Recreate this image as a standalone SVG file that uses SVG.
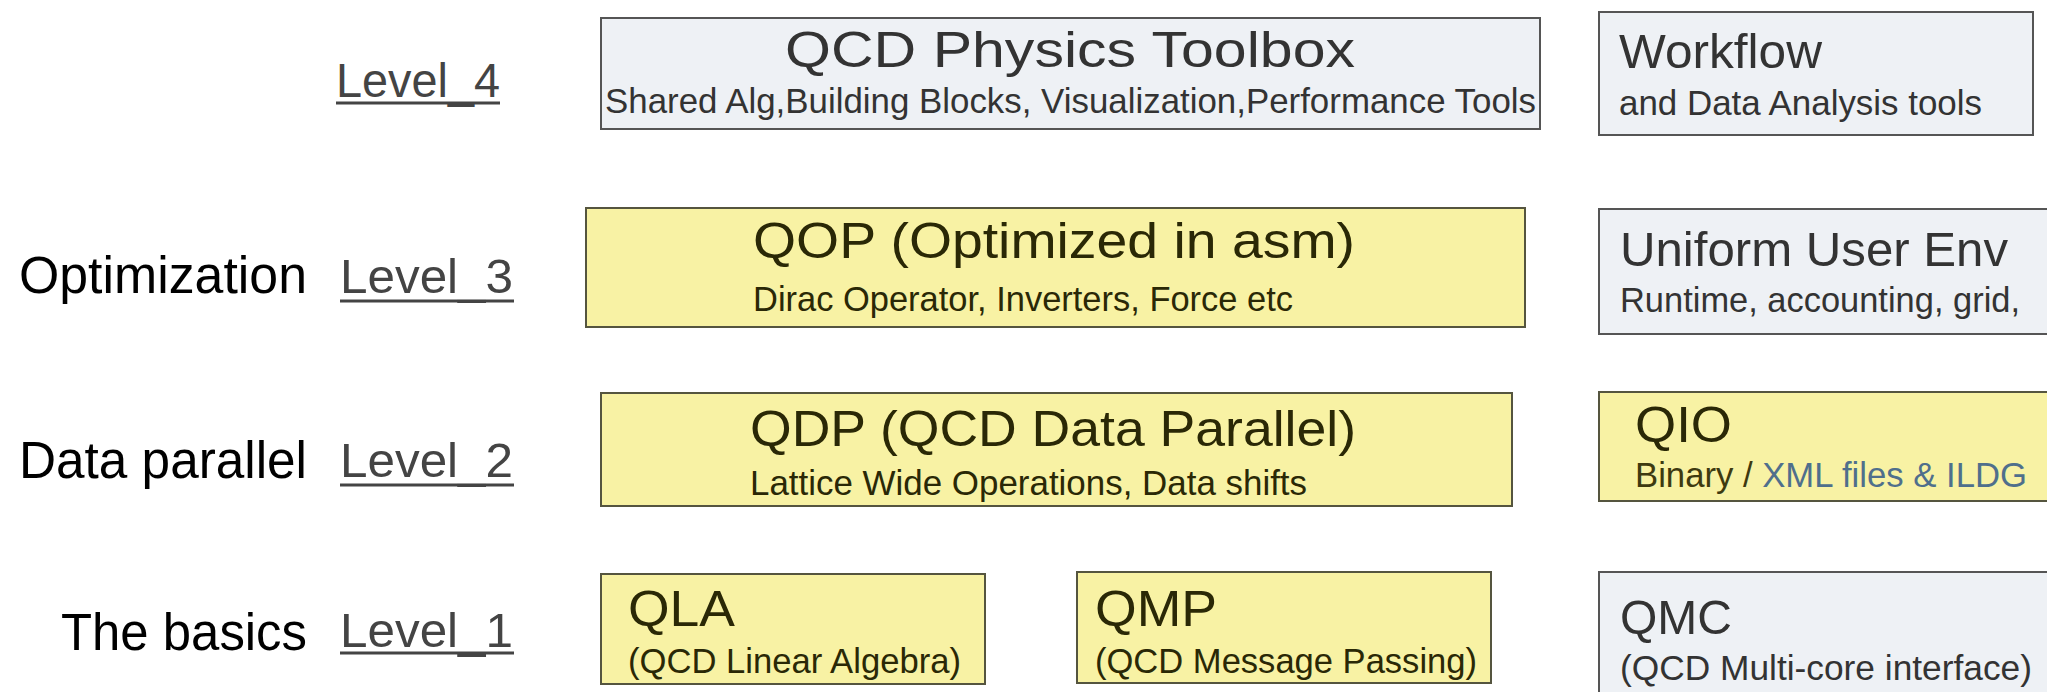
<svg xmlns="http://www.w3.org/2000/svg" width="2047" height="692" viewBox="0 0 2047 692">
<style>
text{font-family:"Liberation Sans",Arial,sans-serif}
.blue{fill:#eef1f5;stroke:#555;stroke-width:2}
.yel{fill:#f8f2a4;stroke:#55553f;stroke-width:2}
.side{fill:#000;font-size:51px}
.lvl{fill:#444;font-size:48px}
.ul{stroke:#444;stroke-width:3}
.bt{fill:#333}
.yt{fill:#2a2806}
.tt{font-size:50px}
.st{font-size:35px}
</style>
<rect width="2047" height="692" fill="#fff"/>
<g id="labels">
<text class="lvl" x="336" y="97" textLength="164" lengthAdjust="spacingAndGlyphs">Level_4</text>
<line class="ul" x1="336" y1="103" x2="500" y2="103"/>
<text class="side" x="19" y="293" textLength="288" lengthAdjust="spacingAndGlyphs">Optimization</text>
<text class="lvl" x="340" y="293" textLength="173" lengthAdjust="spacingAndGlyphs">Level_3</text>
<line class="ul" x1="340" y1="301" x2="514" y2="301"/>
<text class="side" x="19" y="478" textLength="288" lengthAdjust="spacingAndGlyphs">Data parallel</text>
<text class="lvl" x="340" y="477" textLength="173" lengthAdjust="spacingAndGlyphs">Level_2</text>
<line class="ul" x1="340" y1="485" x2="514" y2="485"/>
<text class="side" x="61" y="650" textLength="246" lengthAdjust="spacingAndGlyphs">The basics</text>
<text class="lvl" x="340" y="647" textLength="173" lengthAdjust="spacingAndGlyphs">Level_1</text>
<line class="ul" x1="340" y1="653" x2="514" y2="653"/>
</g>
<g id="toolbox">
<rect class="blue" x="601" y="18" width="939" height="111"/>
<text class="bt tt" x="785" y="67" textLength="570" lengthAdjust="spacingAndGlyphs">QCD Physics Toolbox</text>
<text class="bt st" x="605" y="113" textLength="931" lengthAdjust="spacingAndGlyphs">Shared Alg,Building Blocks, Visualization,Performance Tools</text>
</g>
<g id="workflow">
<rect class="blue" x="1599" y="12" width="434" height="123"/>
<text class="bt" x="1619" y="68" font-size="49" textLength="203" lengthAdjust="spacingAndGlyphs">Workflow</text>
<text class="bt st" x="1619" y="115" textLength="363" lengthAdjust="spacingAndGlyphs">and Data Analysis tools</text>
</g>
<g id="qop">
<rect class="yel" x="586" y="208" width="939" height="119"/>
<text class="yt tt" x="753" y="258" textLength="602" lengthAdjust="spacingAndGlyphs">QOP (Optimized  in asm)</text>
<text class="yt st" x="753" y="311" textLength="540" lengthAdjust="spacingAndGlyphs">Dirac Operator, Inverters, Force etc</text>
</g>
<g id="uue">
<rect class="blue" x="1599" y="209" width="460" height="125"/>
<text class="bt" x="1620" y="266" font-size="49" textLength="388" lengthAdjust="spacingAndGlyphs">Uniform User Env</text>
<text class="bt st" x="1620" y="312" textLength="400" lengthAdjust="spacingAndGlyphs">Runtime, accounting, grid,</text>
</g>
<g id="qdp">
<rect class="yel" x="601" y="393" width="911" height="113"/>
<text class="yt tt" x="750" y="446" textLength="606" lengthAdjust="spacingAndGlyphs">QDP (QCD Data Parallel)</text>
<text class="yt st" x="750" y="495" textLength="557" lengthAdjust="spacingAndGlyphs">Lattice Wide  Operations, Data shifts</text>
</g>
<g id="qio">
<rect class="yel" x="1599" y="392" width="460" height="109"/>
<text class="yt" x="1635" y="442" font-size="50" textLength="97" lengthAdjust="spacingAndGlyphs">QIO</text>
<text class="st" x="1635" y="487" textLength="392" lengthAdjust="spacingAndGlyphs"><tspan fill="#3e3a10">Binary / </tspan><tspan fill="#4f6f8c">XML files &amp; ILDG</tspan></text>
</g>
<g id="qla">
<rect class="yel" x="601" y="574" width="384" height="110"/>
<text class="yt tt" x="628" y="626" textLength="107" lengthAdjust="spacingAndGlyphs">QLA</text>
<text class="yt st" x="628" y="673" textLength="333" lengthAdjust="spacingAndGlyphs">(QCD Linear Algebra)</text>
</g>
<g id="qmp">
<rect class="yel" x="1077" y="572" width="414" height="111"/>
<text class="yt tt" x="1095" y="626" textLength="122" lengthAdjust="spacingAndGlyphs">QMP</text>
<text class="yt st" x="1095" y="673" textLength="382" lengthAdjust="spacingAndGlyphs">(QCD Message Passing)</text>
</g>
<g id="qmc">
<rect class="blue" x="1599" y="572" width="460" height="140"/>
<text class="bt" x="1620" y="634" font-size="49" textLength="112" lengthAdjust="spacingAndGlyphs">QMC</text>
<text class="bt st" x="1620" y="680" textLength="412" lengthAdjust="spacingAndGlyphs">(QCD Multi-core interface)</text>
</g>
<g id="connectors"/>
</svg>
